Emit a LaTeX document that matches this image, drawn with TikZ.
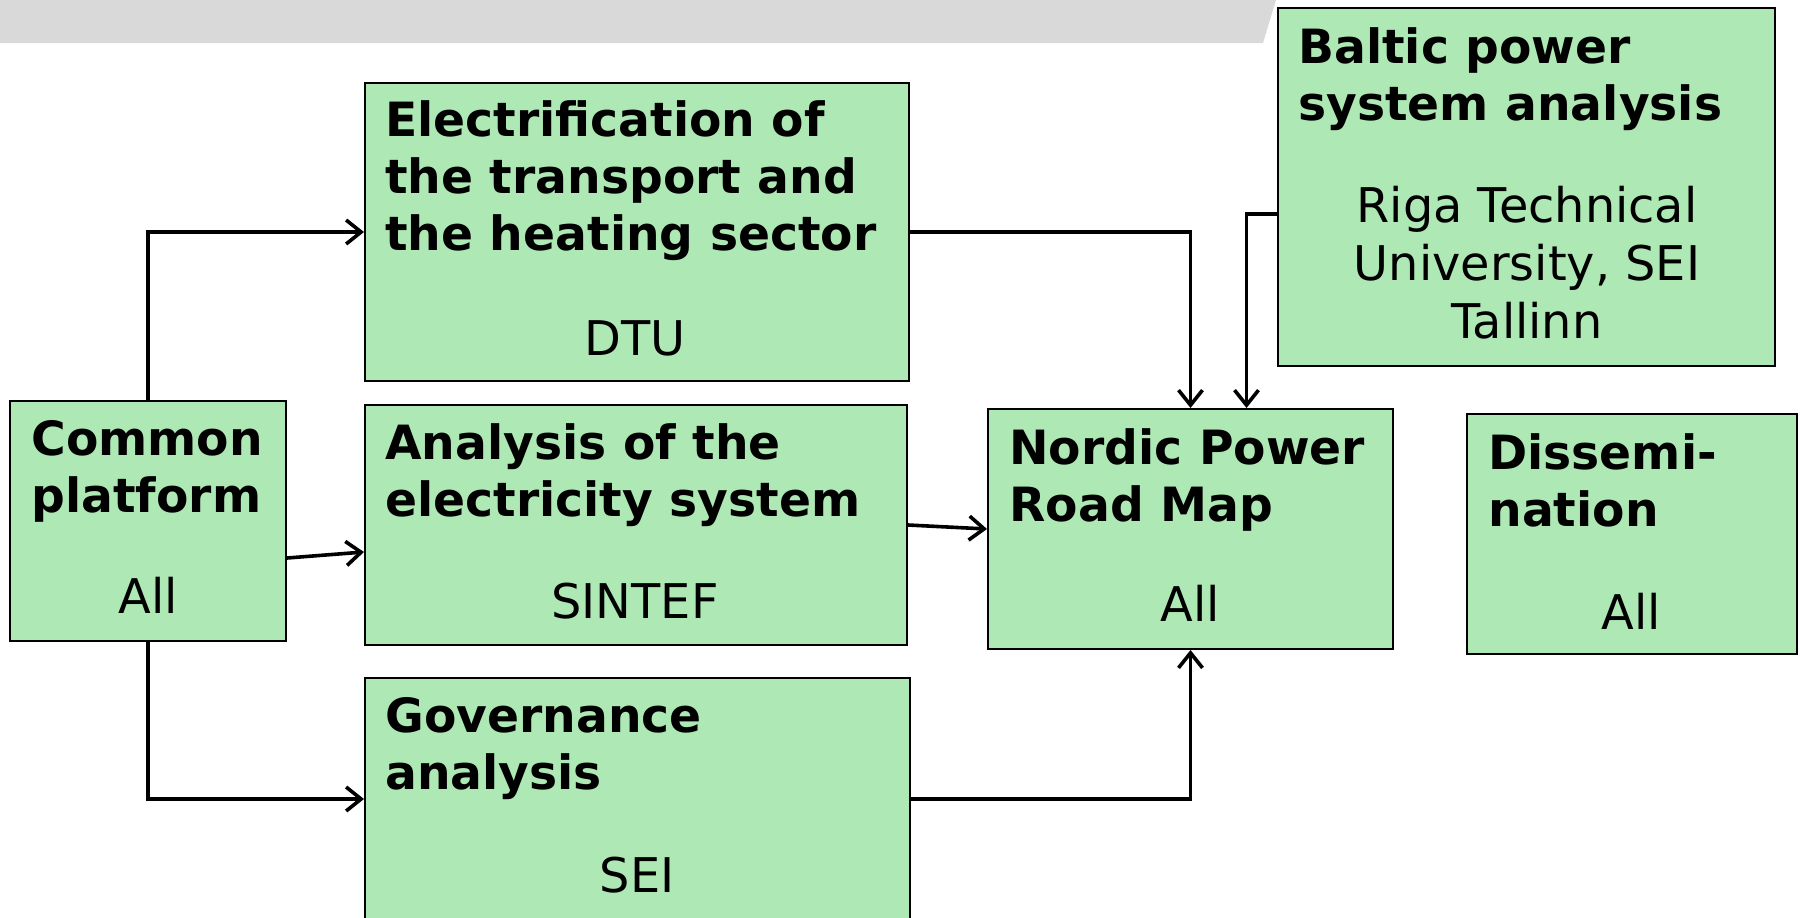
\documentclass[tikz,border=0pt]{standalone}
\usepackage{fontspec}
\setmainfont{DejaVu Sans}
\usetikzlibrary{arrows.meta}

\definecolor{boxgreen}{RGB}{174,232,181}
\definecolor{bargray}{RGB}{217,217,217}

\tikzset{
  wpbox/.style={draw=black, line width=1pt, fill=boxgreen, inner sep=0pt},
  wptitle/.style={font=\fontsize{23.6pt}{28.5pt}\selectfont\bfseries, align=left,
    anchor=north west, inner sep=0pt},
  wplead/.style={font=\fontsize{23.9pt}{29pt}\selectfont, align=center,
    anchor=base, inner sep=0pt},
  flow/.style={line width=1.8pt, -{Straight Barb[length=7.5pt,width=12pt,line width=1.8pt]}}
}

\begin{document}
\begin{tikzpicture}[x=0.5pt, y=-0.5pt]
  \useasboundingbox (0,0) rectangle (1800,917);

  % slide header bar
  \fill[bargray] (0,0) -- (1276,0) -- (1263,43) -- (0,43) -- cycle;

  % work packages
  \node[wpbox, minimum width=272pt, minimum height=149pt] (elec)   at (637,232)  {};
  \node[wpbox, minimum width=138pt, minimum height=120pt] (common) at (148,521)  {};
  \node[wpbox, minimum width=271pt, minimum height=120pt] (anal)   at (636,525)  {};
  \node[wpbox, minimum width=272.5pt, minimum height=121pt] (gov)  at (637.5,799) {};
  \node[wpbox, minimum width=202.5pt, minimum height=120pt] (road) at (1190.5,529) {};
  \node[wpbox, minimum width=248.5pt, minimum height=179pt] (baltic) at (1526.5,187) {};
  \node[wpbox, minimum width=165pt, minimum height=120pt] (dissem) at (1632,534) {};

  % titles
  \node[wptitle] (elec-t)   at (385,100)  {Electrification of\\the transport and\\the heating sector};
  \node[wptitle] (common-t) at (31,420)   {Common\\platform};
  \node[wptitle] (anal-t)   at (385,423)  {Analysis of the\\electricity system};
  \node[wptitle] (gov-t)    at (385,697)  {Governance\\analysis};
  \node[wptitle] (road-t)   at (1009,428) {Nordic Power\\Road Map};
  \node[wptitle] (baltic-t) at (1298,27)  {Baltic power\\system analysis};
  \node[wptitle] (dissem-t) at (1488,433) {Dissemi-\\nation};

  % partners
  \node[wplead] (elec-p)   at (635,355)  {DTU};
  \node[wplead] (common-p) at (148,613)  {All};
  \node[wplead] (anal-p)   at (635,618)  {SINTEF};
  \node[wplead] (gov-p)    at (637,892)  {SEI};
  \node[wplead] (road-p)   at (1190,621) {All};
  \node[wplead, anchor=north] (baltic-p) at (1527,186) {Riga Technical\\University, SEI\\Tallinn};
  \node[wplead] (dissem-p) at (1631,629) {All};

  % links
  \draw[flow] (common.north) |- (elec.west);
  \draw[flow] ([yshift=-18.5pt]common.east) -- ([yshift=-13.5pt]anal.west);
  \draw[flow] (common.south) |- (gov.west);
  \draw[flow] (elec.east) -| (road.north);
  \draw[flow] ([yshift=-13.5pt]baltic.west) -| ([xshift=28pt]road.north);
  \draw[flow] (anal.east) -- (road.west);
  \draw[flow] (gov.east) -| (road.south);
\end{tikzpicture}
\end{document}
